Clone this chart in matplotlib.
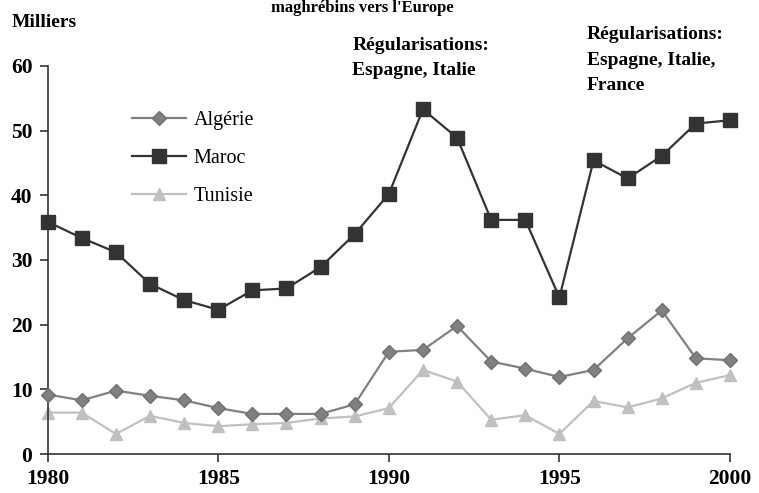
import matplotlib.pyplot as plt

years = list(range(1980, 2001))
algerie = [9.2, 8.3, 9.8, 9.0, 8.3, 7.1, 6.2, 6.2, 6.2, 7.7, 15.8,
           16.1, 19.8, 14.3, 13.2, 11.9, 13.0, 17.9, 22.2, 14.8, 14.5]
maroc = [35.9, 33.4, 31.2, 26.3, 23.8, 22.3, 25.3, 25.6, 28.9, 34.0, 40.2,
         53.3, 48.9, 36.2, 36.2, 24.2, 45.4, 42.6, 46.1, 51.1, 51.6]
tunisie = [6.4, 6.4, 3.1, 5.9, 4.8, 4.3, 4.6, 4.8, 5.5, 5.8, 7.1,
           13.0, 11.2, 5.3, 6.0, 3.1, 8.2, 7.2, 8.6, 11.0, 12.2]
xticks = [1980, 1985, 1990, 1995, 2000]
yticks = [0, 10, 20, 30, 40, 50, 60]

plt.rcParams['font.family'] = ['Liberation Serif', 'DejaVu Serif']

fig = plt.figure(figsize=(7.59, 4.93), dpi=100)
ax = fig.add_axes([0.0628, 0.0791, 0.8990, 0.7871])

ax.plot(years, algerie, color='#808080', lw=1.6, marker='D', ms=7.5,
        mec='#707070', label='Algérie', clip_on=False, zorder=3)
ax.plot(years, maroc, color='#333333', lw=1.6, marker='s', ms=9.5,
        mec='#333333', label='Maroc', clip_on=False, zorder=4)
ax.plot(years, tunisie, color='#c0c0c0', lw=1.6, marker='^', ms=9,
        mec='#c0c0c0', label='Tunisie', clip_on=False, zorder=2)

ax.set_xlim(1980, 2000)
ax.set_ylim(0, 60)
ax.set_xticks(xticks)
ax.set_yticks(yticks)
for s in ['top', 'right']:
    ax.spines[s].set_visible(False)
for s in ['left', 'bottom']:
    ax.spines[s].set_color('#333333')
    ax.spines[s].set_linewidth(1.2)
ax.tick_params(direction='out', length=6, width=1.2, color='#333333',
               labelsize=15.5)
for lab in ax.get_xticklabels() + ax.get_yticklabels():
    lab.set_fontweight('bold')
ax.tick_params(axis='x', pad=5)
ax.tick_params(axis='y', pad=5)

leg = ax.legend(loc='upper left', bbox_to_anchor=(0.097, 0.93), frameon=False,
                fontsize=14.5, handlelength=2.7, labelspacing=0.94,
                handletextpad=0.35)

fig.text(0.0158, 0.945, 'Milliers', fontsize=14, fontweight='bold')
fig.text(0.478, 0.999, "maghrébins vers l'Europe", fontsize=12,
         fontweight='bold', ha='center', va='top')
fig.text(0.464, 0.925, 'Régularisations:\nEspagne, Italie', fontsize=14,
         fontweight='bold', va='top', linespacing=1.65)
fig.text(0.773, 0.947, 'Régularisations:\nEspagne, Italie,\nFrance',
         fontsize=14, fontweight='bold', va='top', linespacing=1.65)

fig.savefig('out.png', dpi=100)
